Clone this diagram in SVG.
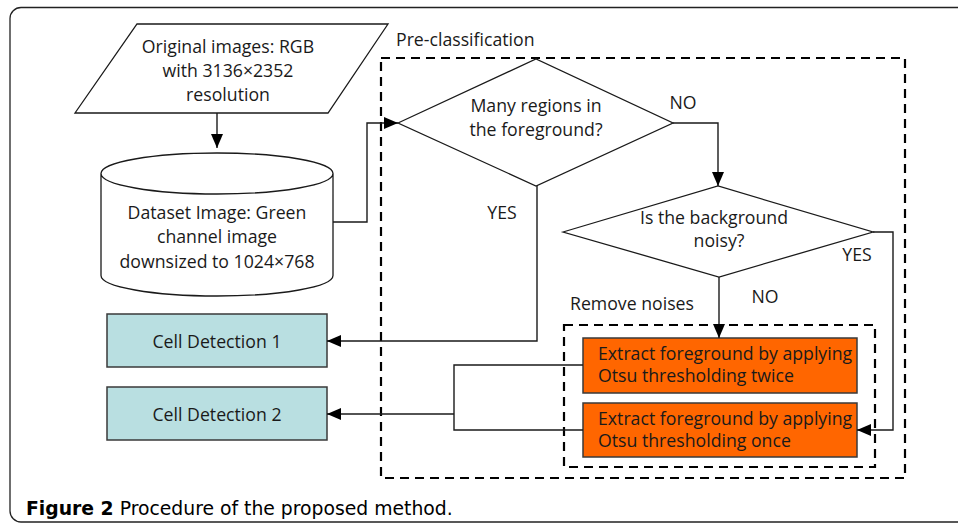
<svg xmlns="http://www.w3.org/2000/svg" width="958" height="524" viewBox="0 0 958 524">
<defs>
<marker id="arr" viewBox="0 0 14 12" refX="14" refY="6" markerWidth="14" markerHeight="12" markerUnits="userSpaceOnUse" orient="auto">
<path d="M0,0 L14,6 L0,12 Z" fill="#000"/>
</marker>
</defs>
<style>
text{font-family:"Open Sans","Noto Sans",sans-serif;font-size:17.7px;fill:#1a1a1a}
.c{text-anchor:middle}
.shape{fill:#fff;stroke:#1a1a1a;stroke-width:1.3}
.cell{fill:#b9dfe1;stroke:#3a3a3a;stroke-width:1.5}
.orange{fill:#ff6600;stroke:#3a3a3a;stroke-width:1.5}
.dash{fill:none;stroke:#000;stroke-width:2.2;stroke-dasharray:9 6}
.conn{fill:none;stroke:#1a1a1a;stroke-width:1.4}
.cap{font-family:"DejaVu Sans","Noto Sans",sans-serif;font-size:18.8px;fill:#000}
</style>
<rect x="0" y="0" width="958" height="524" fill="#fff"/>
<rect x="10" y="7.5" width="970" height="514.5" rx="11" fill="none" stroke="#222" stroke-width="1.3"/>

<g id="preclass">
<rect class="dash" x="381" y="58" width="524" height="420"/>
<text x="396" y="46">Pre-classification</text>
</g>
<g id="removenoises">
<rect class="dash" x="564" y="325" width="311" height="142"/>
<text x="570" y="310">Remove noises</text>
</g>

<g id="original">
<polygon class="shape" points="137,24 388,24 328,113 75,113"/>
<text class="c" x="228" y="53">Original images: RGB</text>
<text class="c" x="228" y="77">with 3136×2352</text>
<text class="c" x="228" y="101">resolution</text>
</g>

<g id="dataset">
<path class="shape" d="M101,173.5 L101,275.5 A116,20.5 0 0 0 333,275.5 L333,173.5 A116,20.5 0 0 0 101,173.5 A116,20.5 0 0 0 333,173.5"/>
<text class="c" x="217" y="219">Dataset Image: Green</text>
<text class="c" x="217" y="243">channel image</text>
<text class="c" x="217" y="268">downsized to 1024×768</text>
</g>

<g id="decision1">
<polygon class="shape" points="398,123 536,59 673,123 536,186"/>
<text class="c" x="536" y="112">Many regions in</text>
<text class="c" x="536" y="136">the foreground?</text>
</g>

<g id="decision2">
<polygon class="shape" points="563,232 718,186 873,232 719,277"/>
<text class="c" x="714" y="224">Is the background</text>
<text class="c" x="719" y="246.5">noisy?</text>
</g>

<g id="cell1">
<rect class="cell" x="107" y="314" width="220" height="53"/>
<text class="c" x="217" y="348">Cell Detection 1</text>
</g>
<g id="cell2">
<rect class="cell" x="107" y="387" width="220" height="53"/>
<text class="c" x="217" y="421">Cell Detection 2</text>
</g>

<g id="twice">
<rect class="orange" x="583" y="338" width="274" height="55"/>
<text x="598" y="360">Extract foreground by applying</text>
<text x="598" y="382">Otsu thresholding twice</text>
</g>
<g id="once">
<rect class="orange" x="583" y="403" width="274" height="54"/>
<text x="598" y="424.5">Extract foreground by applying</text>
<text x="598" y="446.5">Otsu thresholding once</text>
</g>

<g id="connectors">
<path class="conn" d="M217,113 L217,148" marker-end="url(#arr)"/>
<path class="conn" d="M333,222 L367,222 L367,123 L398,123" marker-end="url(#arr)"/>
<path class="conn" d="M673,123 L718,123 L718,186" marker-end="url(#arr)"/>
<path class="conn" d="M537,186 L537,341 L327,341" marker-end="url(#arr)"/>
<path class="conn" d="M719,277 L719,338" marker-end="url(#arr)"/>
<path class="conn" d="M873,232 L893,232 L893,430 L857,430" marker-end="url(#arr)"/>
<path class="conn" d="M583,365 L454,365 L454,430 L583,430"/>
<path class="conn" d="M454,414 L327,414" marker-end="url(#arr)"/>
<text x="683" y="109" class="c">NO</text>
<text x="502" y="219" class="c">YES</text>
<text x="765" y="303" class="c">NO</text>
<text x="857" y="261" class="c">YES</text>
</g>

<text class="cap" x="26" y="515"><tspan font-weight="bold">Figure 2</tspan> Procedure of the proposed method.</text>
</svg>
